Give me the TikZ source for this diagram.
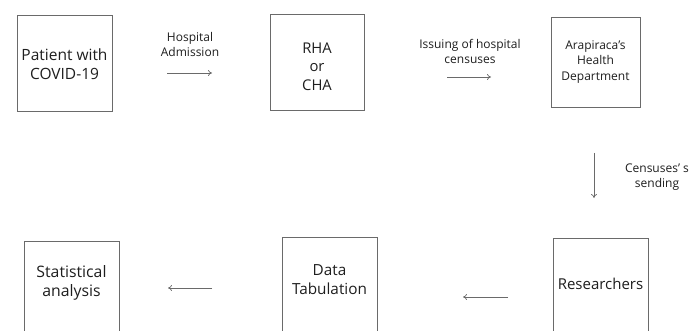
\documentclass[tikz,border=0pt]{standalone}
\usepackage{fontspec}
\setmainfont{Open Sans}
\usetikzlibrary{arrows.meta}
\definecolor{boxgray}{HTML}{6A6A6A}
\definecolor{txtgray}{HTML}{1E1E1E}
\tikzset{
  box/.style={draw=boxgray, line width=0.9pt, rectangle, inner sep=0pt},
  btext/.style={text=txtgray, align=center, font=\fontsize{15.3}{19}\selectfont, inner sep=0pt},
  ltext/.style={text=txtgray, align=center, font=\fontsize{12}{15}\selectfont, inner sep=0pt},
  conn/.style={draw=boxgray, line width=0.7pt, -{To[length=4pt,width=6pt]}}
}
\begin{document}
\begin{tikzpicture}[x=1pt,y=-1pt]
\useasboundingbox (0,0) rectangle (690,331);
\clip (0,0) rectangle (690,331);
\fill[white] (0,0) rectangle (690,331);
% top row boxes
\node[box, minimum width=95pt, minimum height=96pt] (b1) at (64.5,63) {};
\node[btext, font=\fontsize{15.5}{19}\selectfont] (t1) at (64.5,64.5) {Patient with\\COVID-19};
\node[box, minimum width=94pt, minimum height=96pt] (b2) at (317,62) {};
\node[btext, font=\fontsize{14.8}{18.5}\selectfont] (t2) at (317,66.5) {RHA\\or\\CHA};
\node[box, minimum width=89pt, minimum height=90pt] (b3) at (595.5,62) {};
\node[btext, font=\fontsize{12}{15.2}\selectfont] (t3) at (595.5,62) {Arapiraca’s\\Health\\Department};
% bottom row boxes
\node[box, minimum width=95pt, minimum height=100pt] (b4) at (600.5,288) {};
\node[btext, font=\fontsize{15}{19}\selectfont] (t4) at (600.5,284) {Researchers};
\node[box, minimum width=95pt, minimum height=100pt] (b5) at (329.5,287) {};
\node[btext] (t5) at (329.5,280) {Data\\Tabulation};
\node[box, minimum width=95pt, minimum height=100pt] (b6) at (71.5,291) {};
\node[btext, font=\fontsize{15.8}{19}\selectfont] (t6) at (71.5,282.5) {Statistical\\analysis};
% connectors
\coordinate (a1s) at (167,73); \coordinate (a1e) at (212,73);
\draw[conn] (a1s) -- (a1e);
\node[ltext] (l1) at (190,44.5) {Hospital\\Admission};
\coordinate (a2s) at (447,77); \coordinate (a2e) at (491,77);
\draw[conn] (a2s) -- (a2e);
\node[ltext] (l2) at (470,51.5) {Issuing of hospital\\censuses};
\coordinate (a3s) at (594,153); \coordinate (a3e) at (594,198);
\draw[conn] (a3s) -- (a3e);
\node[ltext] (l3) at (657,177.5) {Censuses’ s\\sending};
\coordinate (a4s) at (508,297); \coordinate (a4e) at (463,297);
\draw[conn] (a4s) -- (a4e);
\coordinate (a5s) at (212,288); \coordinate (a5e) at (168,288);
\draw[conn] (a5s) -- (a5e);
\end{tikzpicture}
\end{document}
